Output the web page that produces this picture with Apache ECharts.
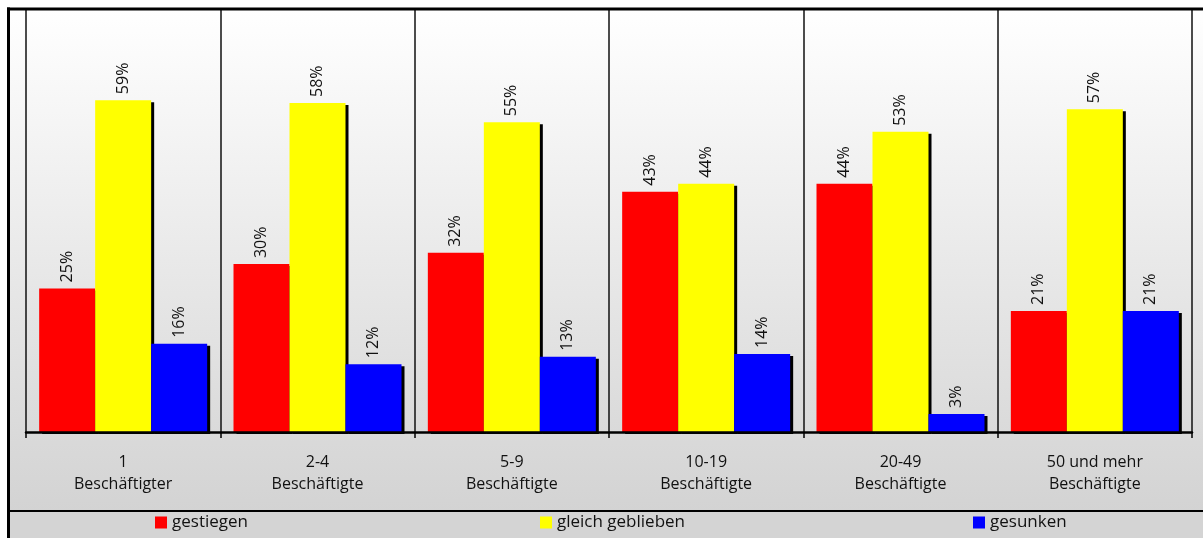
<!DOCTYPE html>
<html>
<head>
<meta charset="utf-8">
<script src="https://cdn.jsdelivr.net/npm/echarts@6/dist/echarts.min.js"></script>
<style>
html,body{margin:0;padding:0;background:#fff;}
#c{width:1203px;height:538px;}
</style>
</head>
<body>
<div id="c"></div>
<script>
var categories = ['1\nBeschäftigter','2-4\nBeschäftigte','5-9\nBeschäftigte','10-19\nBeschäftigte','20-49\nBeschäftigte','50 und mehr\nBeschäftigte'];
var seriesNames = ['gestiegen','gleich geblieben','gesunken'];
var gestiegen = [25.4, 29.7, 31.7, 42.5, 43.9, 21.4];
var gleichGeblieben = [58.7, 58.2, 54.8, 43.9, 53.1, 57.1];
var gesunken = [15.6, 12.0, 13.3, 13.8, 3.2, 21.4];
var colors = ['#ff0000','#ffff00','#0000ff'];

var FONT = '"Open Sans", "Noto Sans", sans-serif';
var chart = echarts.init(document.getElementById('c'));

function mkSeries(name, data, color){
  return {
    name: name, type: 'bar', data: data, barWidth: 56, barGap: '0%', z: 2,
    itemStyle: {color: color, shadowColor: '#000', shadowOffsetX: 3, shadowOffsetY: 2, shadowBlur: 0},
    label: {
      show: true, position: 'top', rotate: 90, align: 'left', verticalAlign: 'middle', distance: 6,
      fontFamily: FONT, fontSize: 16, color: '#111',
      formatter: function(p){ return Math.round(p.value) + '%'; }
    },
    emphasis: {disabled: true}
  };
}
function mkLegend(name, left){
  return {
    data: [name], left: left, top: 514, icon: 'rect', itemWidth: 12, itemHeight: 12, itemGap: 5,
    textStyle: {fontFamily: FONT, fontSize: 17, color: '#111', padding: [0,0,0,0]},
    itemStyle: {shadowColor: 'rgba(0,0,0,0)', shadowOffsetX: 0, shadowOffsetY: 0},
    selectedMode: false, padding: 0
  };
}

chart.setOption({
  animation: false,
  backgroundColor: '#ffffff',
  graphic: [
    {type: 'rect', z: -10, silent: true, shape: {x: 8, y: 8, width: 1203, height: 504},
      style: {fill: new echarts.graphic.LinearGradient(0,0,0,1,[{offset:0,color:'#ffffff'},{offset:1,color:'#d3d3d3'}])}},
    {type: 'rect', z: -10, silent: true, shape: {x: 8, y: 511, width: 1203, height: 30}, style: {fill: '#d4d4d4'}},
    {type: 'line', z: 10, silent: true, shape: {x1: 8, y1: 511, x2: 1203, y2: 511}, style: {stroke: '#000', lineWidth: 2}},
    {type: 'line', z: 10, silent: true, shape: {x1: 8.5, y1: 7.5, x2: 8.5, y2: 538}, style: {stroke: '#000', lineWidth: 3}},
    {type: 'line', z: 10, silent: true, shape: {x1: 7, y1: 9, x2: 1203, y2: 9}, style: {stroke: '#000', lineWidth: 3}}
  ],
  legend: [mkLegend(seriesNames[0], 155), mkLegend(seriesNames[1], 540), mkLegend(seriesNames[2], 973)],
  grid: {left: 26, right: 11, top: 8, bottom: 106, containLabel: false},
  xAxis: {
    type: 'category', data: categories, z: 5,
    axisLine: {show: true, lineStyle: {color: '#000', width: 2.5}},
    axisTick: {show: true, length: 6, lineStyle: {color: '#000', width: 1.5}},
    splitLine: {show: true, lineStyle: {color: '#111', width: 1.5}},
    axisLabel: {interval: 0, fontFamily: FONT, fontSize: 16, lineHeight: 22, color: '#111', margin: 19}
  },
  yAxis: {
    type: 'value', min: 0, max: 75,
    axisLine: {show: false}, axisTick: {show: false}, axisLabel: {show: false}, splitLine: {show: false}
  },
  series: [
    mkSeries(seriesNames[0], gestiegen, colors[0]),
    mkSeries(seriesNames[1], gleichGeblieben, colors[1]),
    mkSeries(seriesNames[2], gesunken, colors[2])
  ]
});
</script>
</body>
</html>
